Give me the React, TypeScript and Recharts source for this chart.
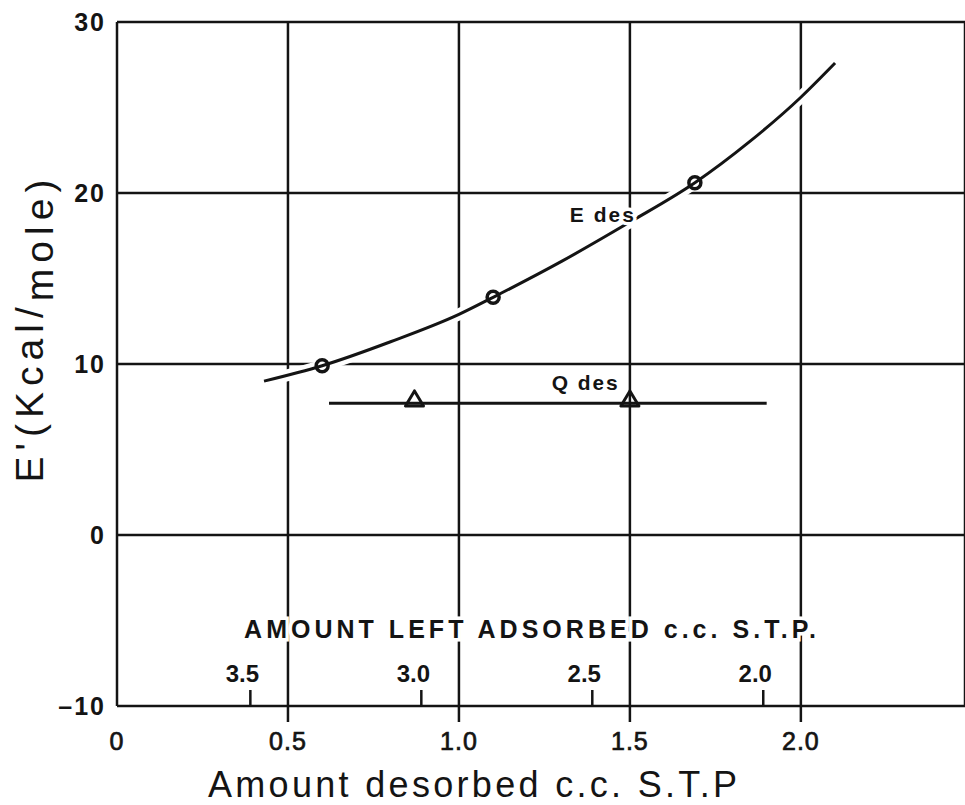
import React from 'react';
import { ComposedChart, Line, Scatter, XAxis, YAxis, CartesianGrid, ReferenceDot } from 'recharts';

// axes
const xTicks = [0, 0.5, 1.0, 1.5, 2.0];
const yTicks = [-10, 0, 10, 20, 30];
const xDomain = [0, 2.48];
const yDomain = [-10, 30];

// E des: smooth curve as drawn, and the measured points on it
const edesCurve = [
  { x: 0.43, y: 9.0 },
  { x: 0.6, y: 9.9 },
  { x: 0.8, y: 11.3 },
  { x: 1.0, y: 12.9 },
  { x: 1.1, y: 13.9 },
  { x: 1.3, y: 16.0 },
  { x: 1.5, y: 18.3 },
  { x: 1.69, y: 20.6 },
  { x: 1.85, y: 23.0 },
  { x: 2.0, y: 25.6 },
  { x: 2.1, y: 27.6 },
];
const edesPoints = [
  { x: 0.6, y: 9.9 },
  { x: 1.1, y: 13.9 },
  { x: 1.69, y: 20.6 },
];

// Q des: flat line and its points
const qdesLine = [
  { x: 0.62, y: 7.7 },
  { x: 1.9, y: 7.7 },
];
const qdesPoints = [
  { x: 0.87, y: 7.9 },
  { x: 1.5, y: 7.9 },
];

// secondary scale: amount left adsorbed = total - desorbed
const totalAdsorbed = 3.89;
const leftTicks = [3.5, 3.0, 2.5, 2.0];

const INK = '#141414';
const FONT = '"Liberation Sans", Arial, sans-serif';
const W = 965;
const H = 805;

const XTick = ({ x, y, payload }: any) => (
  <g>
    {payload.value !== 0 && (
      <line x1={x} x2={x} y1={y} y2={y + 16} stroke={INK} strokeWidth={2.5} />
    )}
    <text x={x} y={y + 35} textAnchor="middle" dominantBaseline="central"
      fontFamily={FONT} fontSize={25} letterSpacing={1} fill={INK} stroke={INK} strokeWidth={0.7}>
      {payload.value === 0 ? '0' : payload.value.toFixed(1)}
    </text>
  </g>
);

const YTick = ({ x, y, payload }: any) => (
  <text x={x - 11} y={y} textAnchor="end" dominantBaseline="central"
    fontFamily={FONT} fontSize={25} fontWeight="bold" letterSpacing={2} fill={INK}>
    {payload.value < 0 ? `\u2013${-payload.value}` : payload.value}
  </text>
);

const halo = { stroke: '#fff', strokeWidth: 7, paintOrder: 'stroke' as const };

const note = (text: string, size: number, width: number) => (p: any) => (
  <text x={p.cx} y={p.cy} textAnchor="middle" dominantBaseline="central"
    fontFamily={FONT} fontSize={size} fontWeight="bold" fill={INK}
    textLength={width} lengthAdjust="spacing" style={halo}>
    {text}
  </text>
);

const leftTick = (v: number) => (p: any) => (
  <g>
    <line x1={p.cx} x2={p.cx} y1={p.cy} y2={p.cy - 16} stroke={INK} strokeWidth={2.5} />
    <text x={p.cx - 8} y={p.cy - 33} textAnchor="middle" dominantBaseline="central"
      fontFamily={FONT} fontSize={24} fontWeight="bold" fill={INK}>
      {v.toFixed(1)}
    </text>
  </g>
);

const Circle = (p: any) => (
  <circle cx={p.cx} cy={p.cy} r={6} fill="none" stroke={INK} strokeWidth={3.5} />
);

const Triangle = (p: any) => (
  <polygon
    points={`${p.cx - 9},${p.cy + 6} ${p.cx + 9},${p.cy + 6} ${p.cx},${p.cy - 9}`}
    fill="none" stroke={INK} strokeWidth={3} strokeLinejoin="round" />
);

const XTitle = (p: any) => {
  const vb = p.viewBox;
  return (
    <text x={vb.x + 91} y={vb.y + 91} fontFamily={FONT} fontSize={36} fill={INK}
      textLength={529} lengthAdjust="spacing">
      Amount desorbed c.c. S.T.P
    </text>
  );
};

const YTitle = (p: any) => {
  const vb = p.viewBox;
  return (
    <text transform={`translate(43, ${vb.y + 309}) rotate(-90)`} textAnchor="middle"
      fontFamily={FONT} fontSize={39} fill={INK} textLength={303} lengthAdjust="spacing">
      E'(Kcal<tspan>/</tspan><tspan dy={10}>mole)</tspan>
    </text>
  );
};

const layer: React.CSSProperties = { position: 'absolute', left: 0, top: 0 };

export default function App() {
  return (
    <div style={{ position: 'absolute', left: 0, top: 0, width: W, height: H, background: '#fff' }}>
      {/* grid and axes underneath */}
      <div style={layer}>
        <ComposedChart width={W} height={H} margin={{ top: 22, right: 0, bottom: 0, left: 0 }}
          data={edesCurve}>
          <CartesianGrid stroke={INK} strokeWidth={2.5} />
          <XAxis type="number" dataKey="x" domain={xDomain} ticks={xTicks} allowDataOverflow
            axisLine={false} tickLine={false} tickSize={0} tickMargin={0} height={99}
            tick={<XTick />} label={XTitle} />
          <YAxis type="number" dataKey="y" domain={yDomain} ticks={yTicks} allowDataOverflow
            axisLine={false} tickLine={false} tickSize={0} tickMargin={0} width={117}
            tick={<YTick />} label={YTitle} />
        </ComposedChart>
      </div>

      {/* data on top, its white halo breaks the grid where the curve crosses */}
      <div style={layer}>
        <ComposedChart width={W} height={H} margin={{ top: 22, right: 0, bottom: 99, left: 117 }}>
          <XAxis type="number" dataKey="x" domain={xDomain} ticks={xTicks} allowDataOverflow hide />
          <YAxis type="number" dataKey="y" domain={yDomain} ticks={yTicks} allowDataOverflow hide />

          <Line data={edesCurve} dataKey="y" name="halo" type="monotone" stroke="#fff" strokeWidth={12}
            dot={false} activeDot={false} isAnimationActive={false} />
          <Line data={edesCurve} dataKey="y" name="E des" type="monotone" stroke={INK} strokeWidth={3}
            dot={false} activeDot={false} isAnimationActive={false} />
          <Line data={qdesLine} dataKey="y" name="Q des" type="linear" stroke={INK} strokeWidth={3}
            dot={false} activeDot={false} isAnimationActive={false} />
          <Scatter data={edesPoints} dataKey="y" shape={Circle} isAnimationActive={false} />
          <Scatter data={qdesPoints} dataKey="y" shape={Triangle} isAnimationActive={false} />

          <ReferenceDot x={1.418} y={18.77} r={0} ifOverflow="visible" shape={note('E des', 21, 64)} />
          <ReferenceDot x={1.368} y={8.89} r={0} ifOverflow="visible" shape={note('Q des', 21, 66)} />
          <ReferenceDot x={1.208} y={-5.5} r={0} ifOverflow="visible"
            shape={note('AMOUNT LEFT ADSORBED c.c. S.T.P.', 25, 572)} />
          {leftTicks.map((v) => (
            <ReferenceDot key={v} x={totalAdsorbed - v} y={-10} r={0} ifOverflow="visible" shape={leftTick(v)} />
          ))}
        </ComposedChart>
      </div>
    </div>
  );
}
